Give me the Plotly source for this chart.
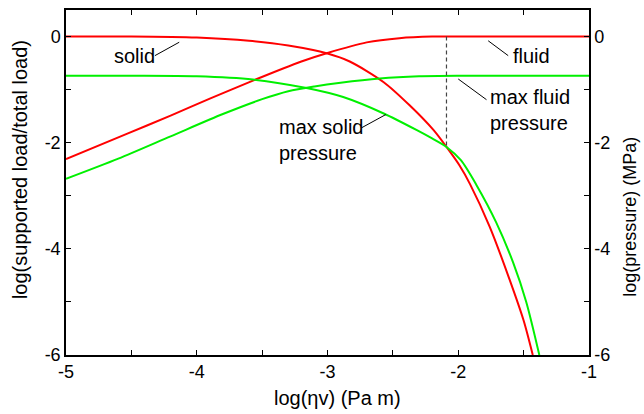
import plotly.graph_objects as go

# ---- data ----
solid_load_x = [-5, -4.5, -4.0, -3.6, -3.3, -3.0, -2.83, -2.57, -2.37, -2.19, -2.09, -1.99, -1.91, -1.76, -1.61, -1.5, -1.43]
solid_load_y = [0, 0, -0.02, -0.08, -0.17, -0.32, -0.47, -0.86, -1.30, -1.76, -2.08, -2.43, -2.78, -3.58, -4.56, -5.35, -6.0]

fluid_load_x = [-5, -4.54, -4.2, -3.9, -3.57, -3.2, -3.0, -2.7, -2.45, -2.2, -1.8, -1.0]
fluid_load_y = [-2.31, -1.84, -1.49, -1.17, -0.83, -0.47, -0.31, -0.11, -0.03, 0, 0, 0]

solid_p_x = [-5, -4.5, -4.0, -3.57, -3.16, -2.88, -2.57, -2.32, -2.2, -2.09, -1.98, -1.86, -1.71, -1.58, -1.48, -1.38]
solid_p_y = [-0.74, -0.74, -0.75, -0.81, -0.97, -1.14, -1.45, -1.76, -1.92, -2.08, -2.33, -2.80, -3.50, -4.26, -5.0, -6.0]

fluid_p_x = [-5, -4.6, -4.2, -3.8, -3.5, -3.3, -3.1, -2.9, -2.6, -2.3, -2.0, -1.0]
fluid_p_y = [-2.68, -2.30, -1.88, -1.46, -1.18, -1.03, -0.94, -0.87, -0.79, -0.75, -0.74, -0.74]

marker_x = [-2.09, -2.09]
marker_y = [0, -2.08]

x_ticks = [-5, -4.5, -4, -3.5, -3, -2.5, -2, -1.5, -1]
x_ticklabels = ["-5", "", "-4", "", "-3", "", "-2", "", "-1"]
y_ticks = [-6, -5, -4, -3, -2, -1, 0]
y_ticklabels = ["-6", "", "-4", "", "-2", "", "0"]

FONT = "Liberation Sans, Arial, Helvetica, sans-serif"
RED = "#ff0000"
GREEN = "#00f000"

W, H = 644, 414
ML, MR, MT, MB = 66, 55, 8, 59
PW, PH = W - ML - MR, H - MT - MB


def px_x(p):
    return (p - ML) / PW


def px_y(p):
    return 1 - (p - MT) / PH


fig = go.Figure()
for xs, ys, col in [(solid_load_x, solid_load_y, RED), (fluid_load_x, fluid_load_y, RED),
                    (solid_p_x, solid_p_y, GREEN), (fluid_p_x, fluid_p_y, GREEN)]:
    fig.add_trace(go.Scatter(x=xs, y=ys, mode="lines",
                             line=dict(color=col, width=2, shape="spline", smoothing=0.8),
                             showlegend=False, hoverinfo="skip"))
fig.add_trace(go.Scatter(x=marker_x, y=marker_y, mode="lines",
                         line=dict(color="#444444", width=1.2, dash="4px,3px"),
                         showlegend=False, hoverinfo="skip"))
# invisible trace for right axis
fig.add_trace(go.Scatter(x=[-5], y=[0], yaxis="y2", mode="markers",
                         marker=dict(opacity=0), showlegend=False, hoverinfo="skip"))

# leader lines
leaders = [((-4.32, -0.36), (-4.134, -0.107)),
           ((-1.771, -0.08), (-1.618, -0.36)),
           ((-2.0, -0.80), (-1.784, -1.19)),
           ((-2.74, -1.72), (-2.554, -1.47))]
for (x0, y0), (x1, y1) in leaders:
    fig.add_shape(type="line", x0=x0, y0=y0, x1=x1, y1=y1, xref="x", yref="y",
                  line=dict(color="black", width=1))

labels = [("solid", -4.65, -0.375), ("fluid", -1.60, -0.375),
          ("max fluid<br>pressure", -1.771, -1.39), ("max solid<br>pressure", -3.39, -1.95)]
for t, x, y in labels:
    fig.add_annotation(text=t, x=x, y=y, xref="x", yref="y", xanchor="left", yanchor="middle",
                       showarrow=False, align="left", font=dict(size=20, color="black", family=FONT))

fig.add_annotation(text="log(supported load/total load)", x=px_x(19.5), y=px_y(168.5), xref="paper", yref="paper",
                   textangle=-90, showarrow=False, font=dict(size=20, color="black", family=FONT),
                   xanchor="center", yanchor="middle")
fig.add_annotation(text="log(pressure) (MPa)", x=px_x(630), y=px_y(216), xref="paper", yref="paper",
                   textangle=-90, showarrow=False, font=dict(size=18, color="black", family=FONT),
                   xanchor="center", yanchor="middle")
fig.add_annotation(text="log(ηv) (Pa m)", x=px_x(337), y=px_y(398), xref="paper", yref="paper",
                   showarrow=False, font=dict(size=20, color="black", family=FONT),
                   xanchor="center", yanchor="middle")

axis_common = dict(showgrid=False, zeroline=False, showline=True, linecolor="black", linewidth=1.5,
                   ticks="inside", ticklen=5, tickwidth=1, tickcolor="black",
                   tickfont=dict(size=18, color="black", family=FONT))

fig.update_layout(
    width=W, height=H,
    margin=dict(l=ML, r=MR, t=MT, b=MB),
    paper_bgcolor="white", plot_bgcolor="white",
    font=dict(family=FONT, size=16, color="black"),
    xaxis=dict(range=[-5, -1], tickmode="array", tickvals=x_ticks, ticktext=x_ticklabels,
               mirror="ticks", **axis_common),
    yaxis=dict(range=[-6, 0.5], tickmode="array", tickvals=y_ticks, ticktext=y_ticklabels,
               **axis_common),
    yaxis2=dict(range=[-6, 0.5], tickmode="array", tickvals=y_ticks, ticktext=y_ticklabels,
                overlaying="y", side="right", **axis_common),
)

fig.write_html("out.html")
